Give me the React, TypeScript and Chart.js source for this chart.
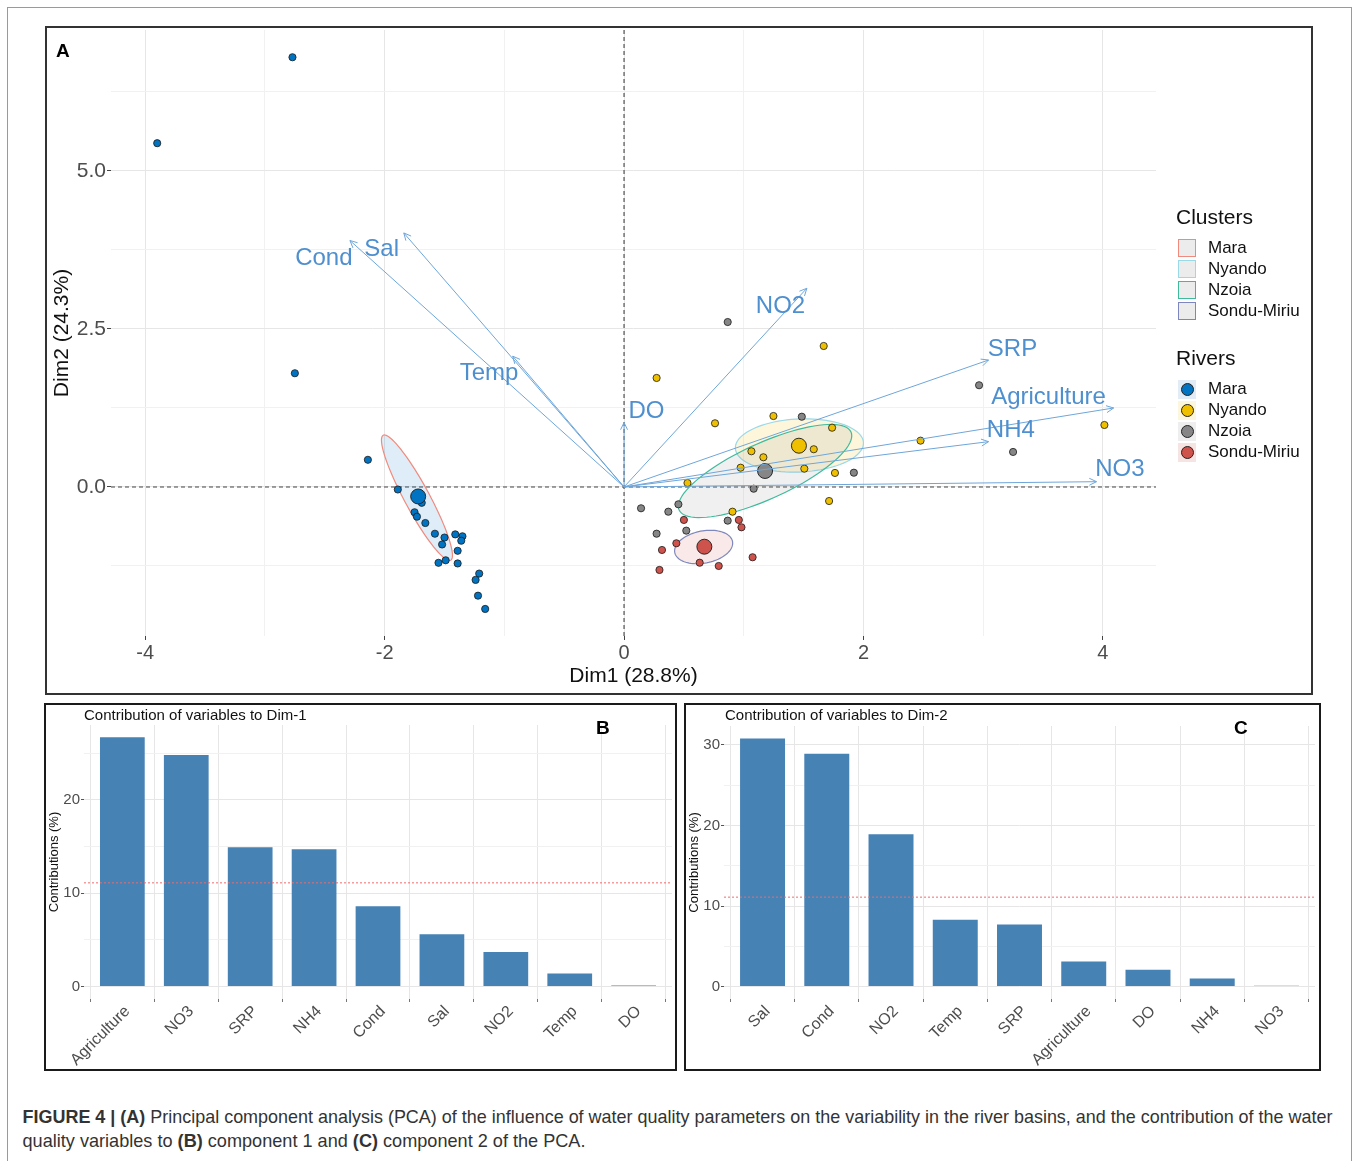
import React, { useEffect, useRef } from "react";
import { Chart, registerables } from "chart.js";

Chart.register(...registerables);

const FONT = "'Liberation Sans', Arial, Helvetica, sans-serif";
Chart.defaults.font.family = FONT;

// ---------------- Panel A : PCA biplot ----------------
const RIVERS = ["Mara", "Nyando", "Nzoia", "Sondu-Miriu"];
const RIVER_COLORS = ["#0073C2", "#EFC000", "#868686", "#CD534C"];
const RIVER_KEY_BG = ["#e1ecf7", "#fbf6dc", "#eeeeee", "#f6e4e3"];
const CLUSTER_OUTLINES = ["#f08a7e", "#9ad9e6", "#3fbb9c", "#7e87bd"];
const CLUSTER_FILLS = [
  "rgba(0,115,194,0.13)",
  "rgba(239,192,0,0.14)",
  "rgba(134,134,134,0.12)",
  "rgba(205,83,76,0.12)",
];

const MARA_POINTS = [
  [-3.9, 5.44], [-2.77, 6.8], [-2.75, 1.8], [-2.14, 0.43], [-1.89, -0.04],
  [-1.69, -0.25], [-1.75, -0.4], [-1.73, -0.47], [-1.66, -0.57], [-1.58, -0.74],
  [-1.5, -0.8], [-1.52, -0.91], [-1.41, -0.75], [-1.35, -0.78], [-1.36, -0.85],
  [-1.39, -1.01], [-1.55, -1.2], [-1.49, -1.16], [-1.39, -1.21], [-1.21, -1.37],
  [-1.24, -1.47], [-1.22, -1.72], [-1.16, -1.93],
];
const NYANDO_POINTS = [
  [0.272, 1.725], [1.668, 2.231], [0.76, 1.008], [1.248, 1.123], [1.738, 0.938],
  [2.477, 0.733], [4.013, 0.981], [1.064, 0.565], [1.164, 0.47], [1.585, 0.597],
  [0.974, 0.305], [1.506, 0.29], [1.762, 0.222], [0.53, 0.063], [1.713, -0.222],
  [0.906, -0.391],
];
const NZOIA_POINTS = [
  [0.866, 2.61], [2.966, 1.61], [3.25, 0.554], [1.485, 1.112], [1.92, 0.226],
  [1.083, -0.027], [0.142, -0.337], [0.37, -0.391], [0.454, -0.274], [0.866, -0.533],
  [0.272, -0.739], [0.52, -0.691],
];
const SONDU_POINTS = [
  [0.5, -0.522], [0.959, -0.522], [0.981, -0.638], [0.437, -0.891], [0.317, -0.997],
  [1.074, -1.112], [0.632, -1.198], [0.296, -1.313], [0.791, -1.25],
];
const RIVER_POINTS = [MARA_POINTS, NYANDO_POINTS, NZOIA_POINTS, SONDU_POINTS];
const RIVER_MEANS = [[-1.72, -0.15], [1.461, 0.653], [1.178, 0.253], [0.671, -0.945]];

// concentration ellipses: centre and two conjugate semi-axes (Dim1, Dim2 units)
const ELLIPSE_CENTERS = [[-1.73, -0.17], [1.465, 0.657], [1.178, 0.253], [0.665, -0.95]];
const ELLIPSE_AXIS_U = [[-0.282, 0.989], [0.535, 0.047], [0.718, 0.617], [0.242, 0.079]];
const ELLIPSE_AXIS_V = [[0.092, 0.093], [0.0125, -0.419], [0.096, -0.403], [0.017, -0.253]];

const VARIABLES = ["Cond", "Sal", "Temp", "DO", "NO2", "SRP", "Agriculture", "NH4", "NO3"];
const VAR_DIM1 = [-2.29, -1.84, -0.93, 0.0, 1.527, 3.045, 4.09, 3.045, 3.947];
const VAR_DIM2 = [3.9, 4.02, 2.07, 1.02, 3.144, 2.009, 1.25, 0.717, 0.084];
const LABEL_DIM1 = [-2.508, -2.025, -1.128, 0.187, 1.307, 3.245, 3.546, 3.231, 4.142];
const LABEL_DIM2 = [3.614, 3.76, 1.794, 1.201, 2.862, 2.177, 1.418, 0.896, 0.279];

const A_X_MAJOR = [-4, -2, 0, 2, 4];
const A_X_MINOR = [-3, -1, 1, 3];
const A_Y_MAJOR = [0, 2.5, 5];
const A_Y_MINOR = [-1.25, 1.25, 3.75, 6.25];
const A_Y_LABELS = ["0.0", "2.5", "5.0"];

// ---------------- Panels B and C : contributions ----------------
const DIM1_VARS = ["Agriculture", "NO3", "SRP", "NH4", "Cond", "Sal", "NO2", "Temp", "DO"];
const DIM1_CONTRIB = [26.7, 24.8, 14.9, 14.7, 8.6, 5.6, 3.7, 1.4, 0.1];
const DIM2_VARS = ["Sal", "Cond", "NO2", "Temp", "SRP", "Agriculture", "DO", "NH4", "NO3"];
const DIM2_CONTRIB = [30.8, 28.9, 18.9, 8.3, 7.7, 3.1, 2.1, 1.0, 0.1];
const EXPECTED_CONTRIB = 11.1;
const B_Y_MAJOR = [0, 10, 20];
const B_Y_MINOR = [5, 15, 25];
const C_Y_MAJOR = [0, 10, 20, 30];
const C_Y_MINOR = [5, 15, 25];

const GRID_MAJOR = "#e6e6e6";
const GRID_MINOR = "#f1f1f1";
const ARROW_COLOR = "#6ea6da";
const ARROW_LABEL_COLOR = "#4e8fcf";

const biplotPlugin = {
  id: "biplot",
  beforeDatasetsDraw(chart: any) {
    const { ctx, chartArea: a, scales } = chart;
    const x = scales.x, y = scales.y;
    ctx.save();
    // zero lines
    ctx.strokeStyle = "#444";
    ctx.lineWidth = 1.1;
    ctx.setLineDash([4, 3]);
    const x0 = x.getPixelForValue(0), y0 = y.getPixelForValue(0);
    ctx.beginPath();
    ctx.moveTo(x0, a.top);
    ctx.lineTo(x0, a.bottom);
    ctx.moveTo(a.left, y0);
    ctx.lineTo(a.right, y0);
    ctx.stroke();
    ctx.setLineDash([]);
    // ellipses
    ELLIPSE_CENTERS.forEach((c, i) => {
      const cx = x.getPixelForValue(c[0]);
      const cy = y.getPixelForValue(c[1]);
      const u = ELLIPSE_AXIS_U[i], v = ELLIPSE_AXIS_V[i];
      const ux = x.getPixelForValue(c[0] + u[0]) - cx;
      const uy = y.getPixelForValue(c[1] + u[1]) - cy;
      const vx = x.getPixelForValue(c[0] + v[0]) - cx;
      const vy = y.getPixelForValue(c[1] + v[1]) - cy;
      ctx.beginPath();
      const n = 90;
      for (let k = 0; k <= n; k++) {
        const t = (k / n) * Math.PI * 2;
        const px = cx + ux * Math.cos(t) + vx * Math.sin(t);
        const py = cy + uy * Math.cos(t) + vy * Math.sin(t);
        if (k === 0) ctx.moveTo(px, py);
        else ctx.lineTo(px, py);
      }
      ctx.closePath();
      ctx.fillStyle = CLUSTER_FILLS[i];
      ctx.fill();
      ctx.strokeStyle = CLUSTER_OUTLINES[i];
      ctx.lineWidth = 1.2;
      ctx.stroke();
    });
    ctx.restore();
  },
  afterDatasetsDraw(chart: any) {
    const { ctx, scales } = chart;
    const x = scales.x, y = scales.y;
    ctx.save();
    const ox = x.getPixelForValue(0), oy = y.getPixelForValue(0);
    ctx.strokeStyle = ARROW_COLOR;
    ctx.lineWidth = 1;
    VARIABLES.forEach((name, i) => {
      const tx = x.getPixelForValue(VAR_DIM1[i]);
      const ty = y.getPixelForValue(VAR_DIM2[i]);
      ctx.beginPath();
      ctx.moveTo(ox, oy);
      ctx.lineTo(tx, ty);
      const ang = Math.atan2(ty - oy, tx - ox);
      const len = 8, spread = 0.45;
      ctx.moveTo(tx - len * Math.cos(ang - spread), ty - len * Math.sin(ang - spread));
      ctx.lineTo(tx, ty);
      ctx.lineTo(tx - len * Math.cos(ang + spread), ty - len * Math.sin(ang + spread));
      ctx.stroke();
    });
    ctx.fillStyle = ARROW_LABEL_COLOR;
    ctx.font = `24px ${FONT}`;
    ctx.textAlign = "center";
    ctx.textBaseline = "middle";
    VARIABLES.forEach((name, i) => {
      ctx.fillText(name, x.getPixelForValue(LABEL_DIM1[i]), y.getPixelForValue(LABEL_DIM2[i]));
    });
    ctx.restore();
  },
};

const refLinePlugin = {
  id: "refLine",
  afterDatasetsDraw(chart: any) {
    const { ctx, chartArea: a, scales } = chart;
    const py = scales.y.getPixelForValue(EXPECTED_CONTRIB);
    ctx.save();
    ctx.strokeStyle = "#f06a6a";
    ctx.lineWidth = 1;
    ctx.setLineDash([2, 2]);
    ctx.beginPath();
    ctx.moveTo(a.left, py);
    ctx.lineTo(a.right, py);
    ctx.stroke();
    ctx.restore();
  },
};

function sortedTicks(a: number[], b: number[]) {
  return [...a, ...b].sort((p, q) => p - q).map((v) => ({ value: v }));
}

function BiplotCanvas() {
  const ref = useRef<HTMLCanvasElement>(null);
  useEffect(() => {
    const datasets: any[] = [];
    RIVER_MEANS.forEach((m, i) => {
      datasets.push({
        label: RIVERS[i] + " mean",
        data: [{ x: m[0], y: m[1] }],
        backgroundColor: RIVER_COLORS[i],
        borderColor: "#1a1a1a",
        borderWidth: 0.9,
        pointRadius: 7.5,
      });
    });
    RIVER_POINTS.forEach((pts, i) => {
      datasets.push({
        label: RIVERS[i],
        data: pts.map((p) => ({ x: p[0], y: p[1] })),
        backgroundColor: RIVER_COLORS[i],
        borderColor: "#1a1a1a",
        borderWidth: 0.8,
        pointRadius: 3.6,
      });
    });
    const chart = new Chart(ref.current!, {
      type: "scatter",
      data: { datasets },
      plugins: [biplotPlugin],
      options: {
        animation: false,
        responsive: false,
        events: [],
        layout: { autoPadding: false, padding: { left: 0, top: 2, right: 155, bottom: 0 } },
        plugins: { legend: { display: false }, tooltip: { enabled: false } },
        scales: {
          x: {
            type: "linear",
            min: -4.286,
            max: 4.444,
            afterBuildTicks: (s: any) => { s.ticks = sortedTicks(A_X_MAJOR, A_X_MINOR); },
            afterFit: (s: any) => { s.height = 57; s.paddingLeft = 0; s.paddingRight = 0; },
            border: { display: false },
            grid: {
              color: (c: any) => (A_X_MAJOR.includes(c.tick.value) ? GRID_MAJOR : GRID_MINOR),
              drawTicks: true,
              tickLength: 4,
              tickColor: (c: any) => (A_X_MAJOR.includes(c.tick.value) ? "#444" : "rgba(0,0,0,0)"),
            },
            ticks: {
              autoSkip: false,
              maxRotation: 0,
              padding: 1,
              color: "#4d4d4d",
              font: { size: 20 },
              callback: (v: any) => (A_X_MAJOR.includes(v) ? String(v) : ""),
            },
            title: {
              display: true,
              text: "Dim1 (28.8%)",
              color: "#111",
              font: { size: 21 },
              padding: { top: 0, bottom: 4 },
            },
          },
          y: {
            type: "linear",
            min: -2.358,
            max: 7.231,
            afterBuildTicks: (s: any) => { s.ticks = sortedTicks(A_Y_MAJOR, A_Y_MINOR); },
            afterFit: (s: any) => { s.width = 64; s.paddingTop = 0; s.paddingBottom = 0; },
            border: { display: false },
            grid: {
              color: (c: any) => (A_Y_MAJOR.includes(c.tick.value) ? GRID_MAJOR : GRID_MINOR),
              drawTicks: true,
              tickLength: 4,
              tickColor: (c: any) => (A_Y_MAJOR.includes(c.tick.value) ? "#444" : "rgba(0,0,0,0)"),
            },
            ticks: {
              autoSkip: false,
              padding: 1,
              color: "#4d4d4d",
              font: { size: 21 },
              callback: (v: any) => {
                const k = A_Y_MAJOR.indexOf(v);
                return k >= 0 ? A_Y_LABELS[k] : "";
              },
            },
            title: {
              display: true,
              text: "Dim2 (24.3%)",
              color: "#111",
              font: { size: 21 },
              padding: { top: 3, bottom: 0 },
            },
          },
        },
      },
    } as any);
    return () => chart.destroy();
  }, []);
  return <canvas ref={ref} width={1264} height={665} style={{ position: "absolute", left: 0, top: 0 }} />;
}

function BarCanvas(props: {
  vars: string[];
  values: number[];
  yMin: number;
  yMax: number;
  major: number[];
  minor: number[];
  width: number;
  padTop: number;
  padRight: number;
}) {
  const ref = useRef<HTMLCanvasElement>(null);
  useEffect(() => {
    const { vars, values, yMin, yMax, major, minor, padTop, padRight } = props;
    const chart = new Chart(ref.current!, {
      type: "bar",
      data: {
        datasets: [
          {
            label: "Contributions",
            data: values.map((v, i) => ({ x: i, y: v })),
            backgroundColor: "#4682B4",
            borderWidth: 0,
            categoryPercentage: 1,
            barPercentage: 0.7,
          },
        ],
      },
      plugins: [refLinePlugin],
      options: {
        animation: false,
        responsive: false,
        events: [],
        layout: { autoPadding: false, padding: { left: 0, top: padTop, right: padRight, bottom: 0 } },
        plugins: { legend: { display: false }, tooltip: { enabled: false } },
        scales: {
          x: {
            type: "linear",
            min: -0.6,
            max: vars.length - 0.4,
            offset: false,
            afterBuildTicks: (s: any) => { s.ticks = vars.map((_, i) => ({ value: i })); },
            afterFit: (s: any) => { s.height = 364 - 294; s.paddingLeft = 0; s.paddingRight = 0; },
            border: { display: false },
            grid: { color: GRID_MAJOR, drawTicks: true, tickLength: 3, tickColor: "#777" },
            ticks: {
              autoSkip: false,
              minRotation: 45,
              maxRotation: 45,
              padding: 0,
              labelOffset: 5,
              color: "#4d4d4d",
              font: { size: 16 },
              callback: (v: any) => vars[v] ?? "",
            },
          },
          y: {
            type: "linear",
            min: yMin,
            max: yMax,
            afterBuildTicks: (s: any) => { s.ticks = sortedTicks(major, minor); },
            afterFit: (s: any) => { s.width = 38; s.paddingTop = 0; s.paddingBottom = 0; },
            border: { display: false },
            grid: {
              color: (c: any) => (major.includes(c.tick.value) ? GRID_MAJOR : GRID_MINOR),
              drawTicks: true,
              tickLength: 3,
              tickColor: (c: any) => (major.includes(c.tick.value) ? "#555" : "rgba(0,0,0,0)"),
            },
            ticks: {
              autoSkip: false,
              padding: 1,
              color: "#4d4d4d",
              font: { size: 15 },
              callback: (v: any) => (major.includes(v) ? String(v) : ""),
            },
            title: {
              display: true,
              text: "Contributions (%)",
              color: "#111",
              font: { size: 13 },
              padding: { top: 1, bottom: 0 },
            },
          },
        },
      },
    } as any);
    return () => chart.destroy();
  }, []);
  return (
    <canvas ref={ref} width={props.width} height={364} style={{ position: "absolute", left: 0, top: 0 }} />
  );
}

const abs = (l: number, t: number, extra: any = {}) => ({ position: "absolute" as const, left: l, top: t, ...extra });

function Legend() {
  const rowsC = [248, 269, 290, 311];
  const rowsR = [389, 410, 431, 452];
  const textStyle = { fontSize: 17, lineHeight: "20px", color: "#111", fontFamily: FONT, whiteSpace: "nowrap" as const };
  return (
    <>
      <div style={abs(1176, 204, { fontSize: 21, lineHeight: "26px", color: "#111", fontFamily: FONT })}>Clusters</div>
      {RIVERS.map((r, i) => (
        <React.Fragment key={"c" + r}>
          <div
            style={abs(1178, rowsC[i] - 9, {
              width: 18,
              height: 18,
              boxSizing: "border-box",
              background: "#ececec",
              border: `1.5px solid ${CLUSTER_OUTLINES[i]}`,
            })}
          />
          <div style={abs(1208, rowsC[i] - 10, textStyle)}>{r}</div>
        </React.Fragment>
      ))}
      <div style={abs(1176, 345, { fontSize: 21, lineHeight: "26px", color: "#111", fontFamily: FONT })}>Rivers</div>
      {RIVERS.map((r, i) => (
        <React.Fragment key={"r" + r}>
          <div style={abs(1178, rowsR[i] - 9, { width: 18, height: 19, background: RIVER_KEY_BG[i] })} />
          <div
            style={abs(1180.5, rowsR[i] - 6.5, {
              width: 13,
              height: 13,
              boxSizing: "border-box",
              borderRadius: "50%",
              background: RIVER_COLORS[i],
              border: "1px solid #222",
            })}
          />
          <div style={abs(1208, rowsR[i] - 10, textStyle)}>{r}</div>
        </React.Fragment>
      ))}
    </>
  );
}

export default function App() {
  return (
    <div style={abs(0, 0, { width: 1357, height: 1161, background: "#fff", overflow: "hidden", fontFamily: FONT })}>
      <div style={abs(7, 7, { width: 1345, height: 1170, border: "1px solid #9a9a9a", boxSizing: "border-box" })} />
      {/* Panel A */}
      <div style={abs(45, 26, { width: 1268, height: 669, border: "2px solid #333", boxSizing: "border-box" })}>
        <div style={{ position: "relative", width: 1264, height: 665 }}>
          <BiplotCanvas />
        </div>
      </div>
      <div style={abs(56, 40, { fontSize: 19, fontWeight: "bold", color: "#000", lineHeight: "22px" })}>A</div>
      <Legend />
      {/* Panel B */}
      <div style={abs(44, 703, { width: 633, height: 368, border: "2px solid #1a1a1a", boxSizing: "border-box" })}>
        <div style={{ position: "relative", width: 629, height: 364 }}>
          <BarCanvas
            vars={DIM1_VARS}
            values={DIM1_CONTRIB}
            yMin={-1.335}
            yMax={28.0}
            major={B_Y_MAJOR}
            minor={B_Y_MINOR}
            width={629}
            padTop={20}
            padRight={3}
          />
        </div>
      </div>
      <div style={abs(84, 706, { fontSize: 15, lineHeight: "18px", color: "#111" })}>Contribution of variables to Dim-1</div>
      <div style={abs(596, 717, { fontSize: 19, fontWeight: "bold", color: "#000", lineHeight: "22px" })}>B</div>
      {/* Panel C */}
      <div style={abs(684, 703, { width: 637, height: 368, border: "2px solid #1a1a1a", boxSizing: "border-box" })}>
        <div style={{ position: "relative", width: 633, height: 364 }}>
          <BarCanvas
            vars={DIM2_VARS}
            values={DIM2_CONTRIB}
            yMin={-1.54}
            yMax={32.34}
            major={C_Y_MAJOR}
            minor={C_Y_MINOR}
            width={633}
            padTop={21}
            padRight={4}
          />
        </div>
      </div>
      <div style={abs(725, 706, { fontSize: 15, lineHeight: "18px", color: "#111" })}>Contribution of variables to Dim-2</div>
      <div style={abs(1234, 717, { fontSize: 19, fontWeight: "bold", color: "#000", lineHeight: "22px" })}>C</div>
      {/* Caption */}
      <svg width={1357} height={70} style={abs(0, 1095)}>
        <text x={22.5} y={27.7} fontSize={19} fill="#333" fontFamily={FONT} textLength={1310} lengthAdjust="spacingAndGlyphs">
          <tspan fontWeight="bold">FIGURE 4 | (A)</tspan>
          <tspan> Principal component analysis (PCA) of the influence of water quality parameters on the variability in the river basins, and the contribution of the water</tspan>
        </text>
        <text x={22.5} y={52.3} fontSize={19} fill="#333" fontFamily={FONT} textLength={563} lengthAdjust="spacingAndGlyphs">
          <tspan>quality variables to </tspan>
          <tspan fontWeight="bold">(B)</tspan>
          <tspan> component 1 and </tspan>
          <tspan fontWeight="bold">(C)</tspan>
          <tspan> component 2 of the PCA.</tspan>
        </text>
      </svg>
    </div>
  );
}
